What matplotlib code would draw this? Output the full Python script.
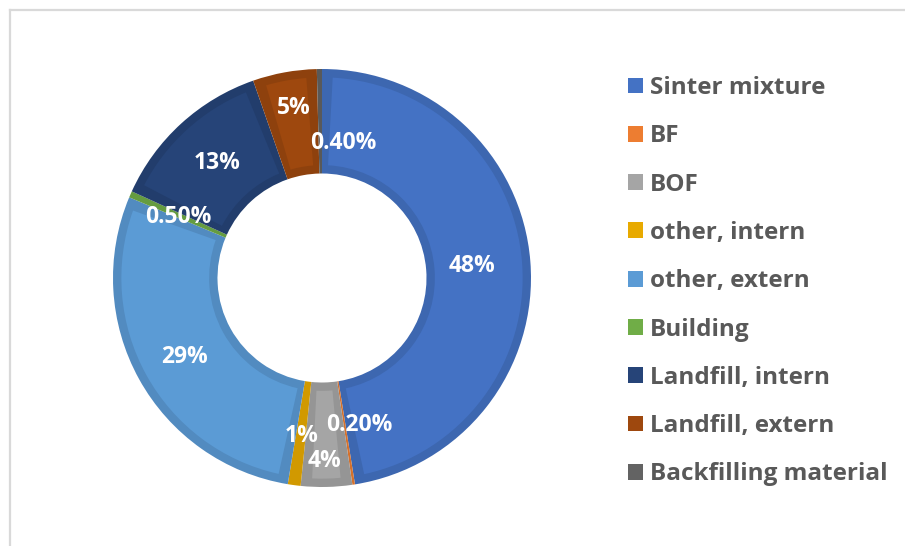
import numpy as np
import matplotlib
matplotlib.use("Agg")
import matplotlib.pyplot as plt
from matplotlib.patches import Wedge
from matplotlib.lines import Line2D
from matplotlib.colors import to_rgb

categories = ["Sinter mixture", "BF", "BOF", "other, intern", "other, extern",
              "Building", "Landfill, intern", "Landfill, extern", "Backfilling material"]
values = [48, 0.2, 4, 1, 29, 0.5, 13, 5, 0.4]
labels = ["48%", "0.20%", "4%", "1%", "29%", "0.50%", "13%", "5%", "0.40%"]
colors = ["#4472C4", "#ED7D31", "#A5A5A5", "#E8AA00", "#5B9BD5",
          "#70AD47", "#264478", "#9E480E", "#636363"]

# label anchor positions (x, y) in units of the outer radius
label_pos = [(0.72, 0.057), (0.177, -0.703), (0.014, -0.876), (-0.096, -0.756),
             (-0.66, -0.38), (-0.689, 0.292), (-0.50, 0.55), (-0.134, 0.813),
             (0.10, 0.646)]

FONT = ["Open Sans", "DejaVu Sans"]

fig = plt.figure(figsize=(9.05, 5.46), dpi=100)
fig.patch.set_facecolor("white")

# thin chart frame along the top and left edges
fig.add_artist(Line2D([10 / 905, 1.0], [1 - 10 / 546, 1 - 10 / 546],
                      transform=fig.transFigure, color="#d9d9d9", lw=1.6))
fig.add_artist(Line2D([10 / 905, 10 / 905], [0.0, 1 - 10 / 546],
                      transform=fig.transFigure, color="#d9d9d9", lw=1.6))

ax = fig.add_axes([113 / 905, 59 / 546, 418 / 905, 418 / 546])


def darker(c, f=0.9):
    r, g, b = to_rgb(c)
    return (r * f, g * f, b * f)


width = 0.5
wedges, _ = ax.pie(values, colors=[darker(c) for c in colors], startangle=90,
                   counterclock=False, radius=1.0,
                   wedgeprops=dict(width=width, edgecolor="none"))
ax.set_xlim(-1, 1)
ax.set_ylim(-1, 1)
ax.set_aspect("auto")
ax.axis("off")

# lighter inset face on each slice for the bevelled look
inset = 0.04
for w, c in zip(wedges, colors):
    t1, t2 = w.theta1, w.theta2
    r_out = w.r - inset
    r_in = w.r - width + inset
    r_mid = (r_out + r_in) / 2
    dth = np.degrees(inset / r_mid)
    if t2 - t1 > 2 * dth + 0.5:
        ax.add_patch(Wedge((0, 0), r_out, t1 + dth, t2 - dth,
                           width=r_out - r_in, facecolor=c, edgecolor="none"))

for lab, (x, y) in zip(labels, label_pos):
    ax.text(x, y, lab, ha="center", va="center", color="white",
            fontsize=16.5, fontweight="bold", family=FONT)

# legend on the right
handles = [plt.Rectangle((0, 0), 1, 1, facecolor=c, edgecolor="none") for c in colors]
leg = fig.legend(handles, categories, loc="upper left",
                 bbox_to_anchor=(628 / 905, 1 - 76 / 546), frameon=False,
                 handlelength=0.62, handleheight=0.62, handletextpad=0.28,
                 labelspacing=1.0, borderaxespad=0, borderpad=0,
                 prop=dict(family=FONT, weight="bold", size=17.5))
for t in leg.get_texts():
    t.set_color("#595959")

fig.savefig("out.png", dpi=100, facecolor="white")
